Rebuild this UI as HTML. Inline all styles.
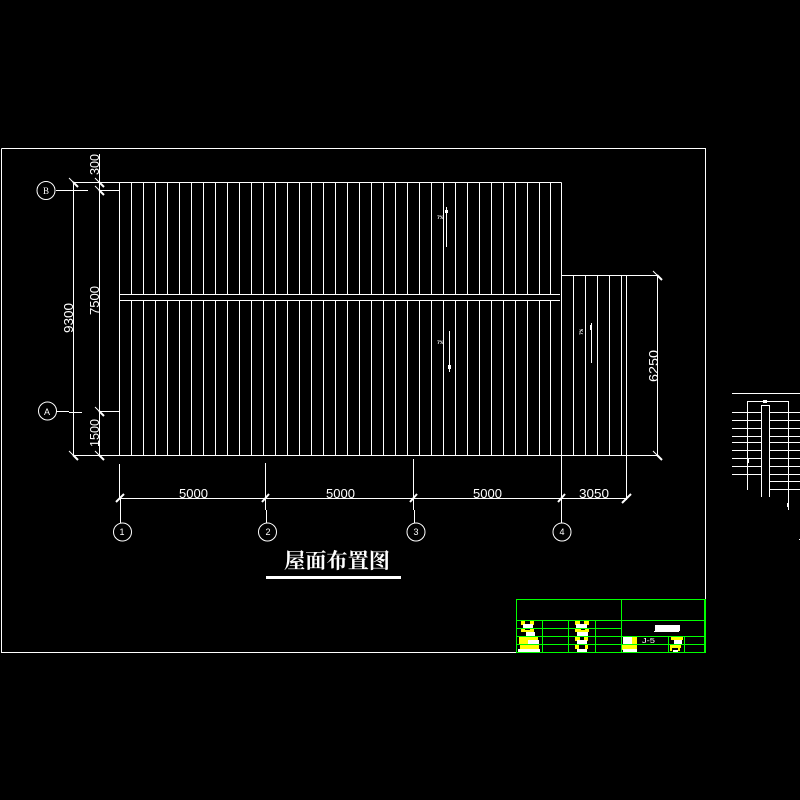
<!DOCTYPE html>
<html><head><meta charset="utf-8"><style>
html,body{margin:0;padding:0;background:#000;width:800px;height:800px;overflow:hidden}
svg{display:block}
.d{font-family:"Liberation Sans",sans-serif;font-size:12.6px;fill:#fff}
.s{font-family:"Liberation Sans",sans-serif;font-size:9px;fill:#fff}
.t{font-family:"Liberation Mono",monospace;font-size:5px;font-weight:bold;fill:#fff}
</style></head><body>
<svg width="800" height="800" viewBox="0 0 800 800" xmlns="http://www.w3.org/2000/svg">
<rect width="800" height="800" fill="#000"/>
<g fill="none" stroke="#fff" stroke-width="1" shape-rendering="crispEdges">
<path d="M1.5 148.5H705.5V600M1.5 148.5V652.5H517"/>
<path d="M73.5 182.5H561.5M73.5 455.5H657.5M119.5 182.5V455.5M561.5 182.5V464M119.5 294.5H560M119.5 300.5H560"/>
<path d="M131.5 182V294M131.5 300V455M143.5 182V294M143.5 300V455M155.5 182V294M155.5 300V455M167.5 182V294M167.5 300V455M179.5 182V294M179.5 300V455M191.5 182V294M191.5 300V455M203.5 182V294M203.5 300V455M215.5 182V294M215.5 300V455M227.5 182V294M227.5 300V455M239.5 182V294M239.5 300V455M251.5 182V294M251.5 300V455M263.5 182V294M263.5 300V455M275.5 182V294M275.5 300V455M287.5 182V294M287.5 300V455M299.5 182V294M299.5 300V455M311.5 182V294M311.5 300V455M323.5 182V294M323.5 300V455M335.5 182V294M335.5 300V455M347.5 182V294M347.5 300V455M359.5 182V294M359.5 300V455M371.5 182V294M371.5 300V455M383.5 182V294M383.5 300V455M395.5 182V294M395.5 300V455M407.5 182V294M407.5 300V455M419.5 182V294M419.5 300V455M431.5 182V294M431.5 300V455M443.5 182V294M443.5 300V455M455.5 182V294M455.5 300V455M467.5 182V294M467.5 300V455M479.5 182V294M479.5 300V455M491.5 182V294M491.5 300V455M503.5 182V294M503.5 300V455M515.5 182V294M515.5 300V455M527.5 182V294M527.5 300V455M539.5 182V294M539.5 300V455M550.5 182V294M550.5 300V455"/>
<path d="M561.5 275.5H657.5M573.5 275V455M585.5 275V455M597.5 275V455M609.5 275V455M621.5 275V455M626.5 275V500M657.5 275V455"/>
<path d="M73.5 182V455M99.5 154V455M56 190.5H88M99 190.5H119M56 411.5H69M69 412.5H82M99 411.5H119"/>
<path d="M119.5 464V498M120.5 498V523M265.5 463V510M266.5 510V523M413.5 459V510M414.5 510V523M561.5 464V523M119 498.5H626"/>
<path d="M446.5 207V247M449.5 331V372M591.5 323V363"/>
<path d="M732 393.5H800M747.5 490V401.5H788.5V510M761.5 497V405.5H769.5V497"/>
<path d="M732 412.5H761M732 420.5H761M732 428.5H761M732 436.5H761M732 442.5H761M732 450.5H761M732 458.5H761M732 466.5H761M732 474.5H761"/>
<path d="M769 412.5H800M769 420.5H800M769 428.5H800M769 436.5H800M769 442.5H800M769 450.5H800M769 458.5H800M769 466.5H800M769 474.5H800M769 481.5H800M769 489.5H800"/>
</g>
<g stroke="#fff" stroke-width="1" fill="none">
<circle cx="46" cy="190.5" r="9"/><circle cx="47.5" cy="411" r="9"/>
<circle cx="122.5" cy="532" r="9"/><circle cx="267.5" cy="532" r="9"/><circle cx="416" cy="532" r="9"/><circle cx="562" cy="532" r="9"/>
</g>
<g stroke="#fff" stroke-width="1" fill="none">
<path d="M69 178L73 182M95 178L99 182M95 186L99 190M95 407L99 411M95 451L99 455M69 451L73 455M653 271L657 275M653 451L657 455"/>
</g>
<g stroke="#fff" stroke-width="2" fill="none">
<path d="M116 502L124 494M262 502L269 494M410 502L417 494M558 502L565 494M622 503L631 494"/>
<path d="M99 182L104 187M99 190L104 195M99 411L104 416M99 455L104 460M73 455L78 460M73 182L78 187M657 275L662 280M657 455L662 460"/>
</g>
<g fill="#fff" shape-rendering="crispEdges">
<rect x="266" y="576" width="135" height="3"/>
<rect x="445" y="210" width="3" height="3"/><rect x="448" y="365" width="3" height="4"/><rect x="590" y="325" width="1" height="5"/>
<rect x="763" y="400" width="4" height="3"/><rect x="748" y="459" width="1" height="4"/><rect x="787" y="503" width="1" height="4"/><rect x="799" y="539" width="1" height="1"/>
</g>
<text class="d" x="179" y="498" textLength="29" lengthAdjust="spacingAndGlyphs">5000</text>
<text class="d" x="326" y="498" textLength="29" lengthAdjust="spacingAndGlyphs">5000</text>
<text class="d" x="473" y="498" textLength="29" lengthAdjust="spacingAndGlyphs">5000</text>
<text class="d" x="579" y="498" textLength="30" lengthAdjust="spacingAndGlyphs">3050</text>
<text class="d" transform="translate(73,333) rotate(-90)" textLength="30" lengthAdjust="spacingAndGlyphs">9300</text>
<text class="d" transform="translate(99,315) rotate(-90)" textLength="29" lengthAdjust="spacingAndGlyphs">7500</text>
<text class="d" transform="translate(99,175) rotate(-90)" textLength="21" lengthAdjust="spacingAndGlyphs">300</text>
<text class="d" transform="translate(99,447) rotate(-90)" textLength="28" lengthAdjust="spacingAndGlyphs">1500</text>
<text class="d" transform="translate(658,382) rotate(-90)" textLength="32" lengthAdjust="spacingAndGlyphs">6250</text>
<text class="s" x="46" y="194" text-anchor="middle" style="font-family:'Liberation Serif',serif">B</text>
<text class="s" x="47" y="415" text-anchor="middle">A</text>
<text class="s" x="122" y="535" text-anchor="middle">1</text>
<text class="s" x="268" y="535" text-anchor="middle">2</text>
<text class="s" x="416" y="535" text-anchor="middle">3</text>
<text class="s" x="562" y="535" text-anchor="middle">4</text>
<text class="t" x="437" y="219">7%</text>
<text class="t" x="437" y="344">7%</text>
<text class="t" transform="translate(583,335) rotate(-90)">7%</text>
<text x="284" y="568" textLength="106" lengthAdjust="spacingAndGlyphs" style="font-family:'Liberation Serif','Noto Serif CJK SC',serif;font-size:21px;font-weight:bold;fill:#fff">屋面布置图</text>
<g shape-rendering="crispEdges">
<g fill="#ff0">
<rect x="521" y="620" width="4" height="5"/><rect x="530" y="620" width="4" height="5"/>
<rect x="521" y="628" width="13" height="4"/><rect x="525" y="629" width="5" height="1" fill="#000"/>
<rect x="519" y="636" width="19" height="8"/><rect x="520" y="644" width="19" height="5"/>
<rect x="575" y="620" width="5" height="5"/><rect x="584" y="620" width="5" height="5"/>
<rect x="575" y="628" width="14" height="4"/><rect x="581" y="628" width="4" height="2" fill="#000"/>
<rect x="575" y="636" width="5" height="5"/><rect x="584" y="636" width="4" height="5"/>
<rect x="575" y="644" width="4" height="5"/><rect x="585" y="644" width="3" height="5"/>
<rect x="622" y="645" width="15" height="5"/><rect x="632" y="637" width="5" height="8"/>
<rect x="671" y="636" width="12" height="4"/><rect x="670" y="644" width="11" height="4"/><rect x="670" y="648" width="2" height="3"/><rect x="678" y="648" width="2" height="3"/>
</g>
<g fill="#fff">
<rect x="523" y="624" width="10" height="4"/><rect x="526" y="632" width="9" height="4"/>
<rect x="528" y="640" width="11" height="4"/><rect x="518" y="649" width="22" height="3"/>
<rect x="576" y="624" width="11" height="4"/><rect x="577" y="632" width="11" height="4"/>
<rect x="577" y="640" width="10" height="4"/><rect x="577" y="649" width="10" height="3"/>
<rect x="623" y="637" width="9" height="7"/><rect x="623" y="649" width="14" height="3"/>
<rect x="674" y="640" width="8" height="4"/><rect x="673" y="650" width="5" height="2"/>
<rect x="655" y="625" width="25" height="6"/><rect x="654" y="631" width="25" height="1"/>
</g>
</g>
<g fill="none" stroke="#0f0" stroke-width="1" shape-rendering="crispEdges">
<rect x="516.5" y="599.5" width="188" height="53"/>
<path d="M704.5 599V653M705.5 599V653"/>
<path d="M621.5 599V653M516 620.5H705M516 628.5H621M516 636.5H705M516 644.5H705M542.5 620V653M568.5 620V653M595.5 620V653M668.5 636V653M684.5 636V653"/>
</g>
<text x="642" y="643" textLength="13" lengthAdjust="spacingAndGlyphs" style="font-family:'Liberation Sans',sans-serif;font-size:7px;fill:#fff">J-5</text>
</svg>
</body></html>
